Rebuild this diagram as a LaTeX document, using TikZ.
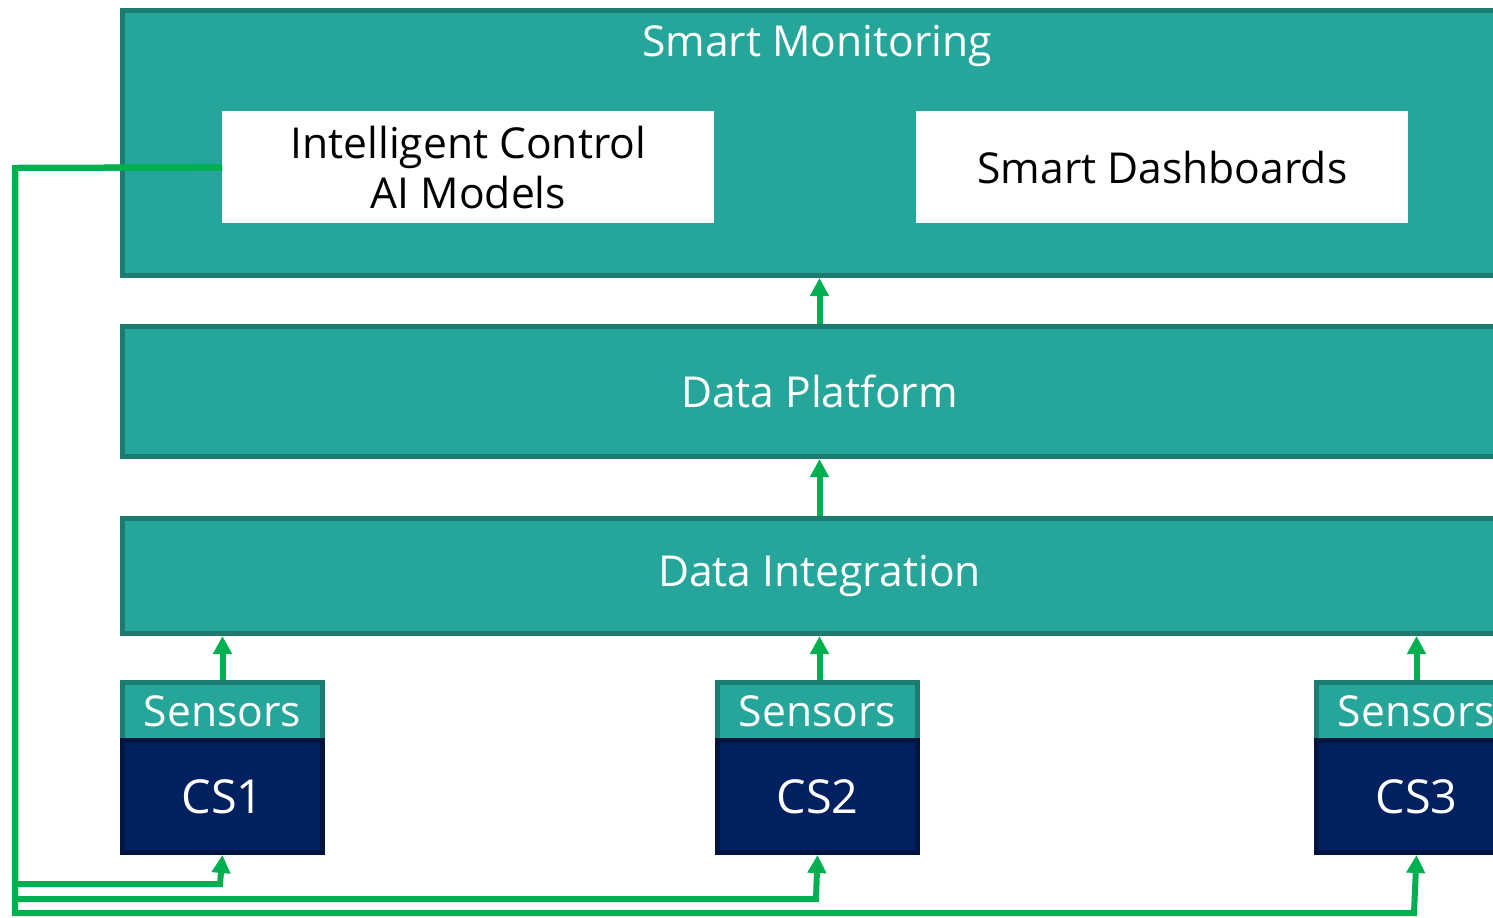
\documentclass[tikz,border=0pt]{standalone}
\usepackage{fontspec}
\setmainfont{Open Sans}
\usetikzlibrary{arrows.meta}
\definecolor{teal1}{HTML}{26A69A}
\definecolor{tealdark}{HTML}{1E7B70}
\definecolor{navy1}{HTML}{002060}
\definecolor{navydark}{HTML}{001440}
\definecolor{green1}{HTML}{00B050}
\tikzset{
  layer/.style={draw=tealdark, fill=teal1, line width=2.5pt, inner sep=0pt, anchor=north west, text=white},
  whitebox/.style={fill=white, inner sep=0pt, anchor=north west, minimum width=246pt, minimum height=56pt, align=center, font=\fontsize{21.3}{25}\selectfont},
  sensband/.style={draw=tealdark, fill=teal1, line width=2.5pt, inner sep=0pt, anchor=north west, minimum width=100pt, minimum height=29pt, text=white, font=\fontsize{21.3}{24}\selectfont},
  csband/.style={draw=navydark, fill=navy1, line width=2.5pt, inner sep=0pt, anchor=north west, minimum width=100pt, minimum height=56pt, text=white, font=\fontsize{23.4}{26}\selectfont},
  flow/.style={draw=green1, line width=3pt, -{Triangle[width=9pt,length=9pt]}},
  fb/.style={draw=green1, line width=3pt, -{Triangle[width=9pt,length=9pt]}},
  ttl/.style={text=white, font=\fontsize{21.3}{24}\selectfont}
}
\begin{document}
\begin{tikzpicture}[x=0.5pt,y=-0.5pt]
\useasboundingbox (0,0) rectangle (1493,917);
\clip (0,0) rectangle (1493,917);
% layers
\node[layer, minimum width=697pt, minimum height=132.5pt] (sm) at (120,8) {};
\node[ttl] (smt) at (817,46) {Smart Monitoring};
\node[whitebox] (ic) at (222,111) {Intelligent Control\\AI Models};
\node[whitebox] (sd) at (916,111) {Smart Dashboards};
\node[layer, minimum width=697pt, minimum height=65pt, font=\fontsize{21.3}{24}\selectfont] (dp) at (120,324) {Data Platform};
\node[layer, minimum width=697pt, minimum height=57.5pt, font=\fontsize{21.3}{24}\selectfont] (di) at (120,516) {Data Integration};
% sensors
\node[sensband] (s1) at (120,680) {Sensors};
\node[csband] (c1) at (120,738) {CS1};
\node[sensband] (s2) at (715,680) {Sensors};
\node[csband] (c2) at (715,738) {CS2};
\node[sensband] (s3) at (1314,680) {Sensors};
\node[csband] (c3) at (1314,738) {CS3};
% upward flows
\draw[flow] (dp.north) -- (sm.south);
\draw[flow] (di.north) -- (dp.south);
\draw[flow] (s1.north) -- (s1.north |- di.south);
\draw[flow] (s2.north -| di.south) -- (di.south);
\draw[flow] (s3.north) -- (s3.north |- di.south);
% feedback loops
\coordinate (fbx) at (15,168);
\draw[fb] (ic.west) -- (fbx) -- (15,884) -- (220,884) -- (c1.south);
\draw[fb] (ic.west) -- (fbx) -- (15,899) -- (816,899) -- (c2.south);
\draw[fb] (ic.west) -- (fbx) -- (15,913) -- (1414,913) -- (c3.south);
\end{tikzpicture}
\end{document}
